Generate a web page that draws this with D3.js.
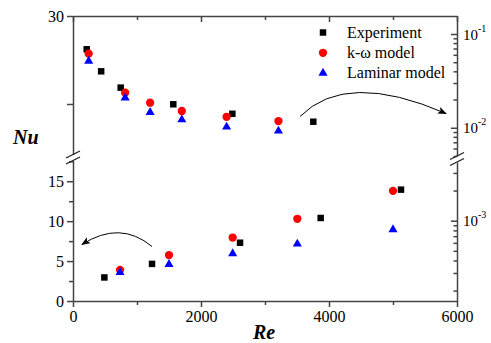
<!DOCTYPE html>
<html>
<head>
<meta charset="utf-8">
<script src="https://cdn.jsdelivr.net/npm/d3@7"></script>
<style>
  body { margin: 0; background: #fff; }
  svg { display: block; font-family: "Liberation Serif", "Times New Roman", serif; }
  .axis path, .axis line { stroke: #444; stroke-width: 1.5; }
  .axis text { font-size: 16px; fill: #000; font-family: "Liberation Serif", serif; }
</style>
</head>
<body>
<svg width="491" height="343"></svg>
<script>
// upper part: friction factor (right log axis)
var expReTop = [214, 440, 745, 1567, 2490, 3755];
var expFTop = [0.0687, 0.0400, 0.0268, 0.0178, 0.0141, 0.0116];
var modelReTop = [245, 815, 1205, 1700, 2400, 3210];
var kwFTop = [0.0617, 0.0237, 0.0185, 0.0151, 0.0131, 0.0118];
var lamFTop = [0.0515, 0.0209, 0.0146, 0.0122, 0.0102, 0.00924];

// lower part: Nusselt number (left linear axis)
var expReBot = [490, 1235, 2610, 3870, 5125];
var expNuBot = [2.95, 4.65, 7.3, 10.4, 13.95];
var modelReBot = [735, 1500, 2495, 3505, 5000];
var kwNuBot = [3.9, 5.75, 7.95, 10.3, 13.8];
var lamNuBot = [3.6, 4.6, 5.95, 7.15, 8.95];

var xTicks = [0, 1000, 2000, 3000, 4000, 5000, 6000];
var nuTicks = [0, 2.5, 5, 7.5, 10, 12.5, 15, 17.5];
var legendNames = ["Experiment", "k-\u03c9 model", "Laminar model"];

var svg = d3.select("svg");

var x = d3.scaleLinear().domain([0, 6000]).range([73, 457]);
var yNu = d3.scaleLinear().domain([0, 17.6]).range([301, 160.5]);
var yNuTop = d3.scaleLinear().domain([22.13, 30]).range([154.5, 16]);
var fTop = d3.scaleLog().domain([0.005, 0.1556]).range([156, 16]);
var fBot = d3.scaleLog().domain([1.574e-4, 3.86e-3]).range([301, 162]);

// arrow head
svg.append("defs").append("marker")
  .attr("id", "head")
  .attr("markerUnits", "userSpaceOnUse")
  .attr("markerWidth", 9).attr("markerHeight", 7)
  .attr("refX", 8).attr("refY", 3.5)
  .attr("orient", "auto")
  .append("path").attr("d", "M0,0 L9,3.5 L0,7 L2,3.5 z").attr("fill", "#000");

// bottom axis
var xAxis = svg.append("g").attr("class", "axis")
  .attr("transform", "translate(0,301)")
  .call(d3.axisBottom(x).tickValues(xTicks).tickSizeOuter(0)
    .tickFormat(function(d) { return d % 2000 == 0 ? d : ""; }));
xAxis.selectAll(".tick line").attr("y2", function(d) { return d % 2000 == 0 ? 6 : 4; });
xAxis.selectAll(".tick text").attr("y", 10);

// top axis, ticks inside
var xTop = svg.append("g").attr("class", "axis")
  .attr("transform", "translate(0,16)")
  .call(d3.axisTop(x).tickValues(xTicks).tickSizeOuter(0).tickFormat(""));
xTop.selectAll(".tick line").attr("y2", function(d) { return d % 2000 == 0 ? 6 : 4; });

// left axis, lower segment
var yLeft = svg.append("g").attr("class", "axis")
  .attr("transform", "translate(73,0)")
  .call(d3.axisLeft(yNu).tickValues(nuTicks).tickSizeOuter(0)
    .tickFormat(function(d) { return d % 5 == 0 ? d : ""; }));
yLeft.selectAll(".tick line").attr("x2", function(d) { return d % 5 == 0 ? -6 : -4; });
yLeft.selectAll(".tick text").attr("x", -9);

// left axis, upper segment
var yLeftTop = svg.append("g").attr("class", "axis")
  .attr("transform", "translate(73,0)")
  .call(d3.axisLeft(yNuTop).tickValues([25, 30]).tickSizeOuter(0)
    .tickFormat(function(d) { return d == 30 ? d : ""; }));
yLeftTop.selectAll(".tick line").attr("x2", -6);
yLeftTop.selectAll(".tick text").attr("x", -9);

// right log axes, ticks pointing inward
function logTicks(scale) {
  var lo = scale.domain()[0], hi = scale.domain()[1], out = [];
  for (var e = -5; e <= 0; e++) {
    for (var m = 1; m <= 9; m++) {
      var v = m * Math.pow(10, e);
      if (v >= lo * 0.999 && v <= hi) out.push(v);
    }
  }
  return out;
}
function isDecade(d) { return Math.abs(Math.log10(d) - Math.round(Math.log10(d))) < 1e-6; }

[fTop, fBot].forEach(function(scale) {
  var g = svg.append("g").attr("class", "axis")
    .attr("transform", "translate(457,0)")
    .call(d3.axisRight(scale).tickValues(logTicks(scale)).tickSizeOuter(0).tickFormat(""));
  g.selectAll(".tick line").attr("x2", function(d) { return isDecade(d) ? -6 : -3.5; });
  g.selectAll(".tick").filter(isDecade).each(function(d) {
    var t = d3.select(this).append("text")
      .attr("x", 6).attr("y", 5).attr("text-anchor", "start")
      .style("font-size", "15px");
    t.append("tspan").text("10");
    t.append("tspan").attr("dy", -8).style("font-size", "10px").text(Math.round(Math.log10(d)));
  });
});

// break marks
function breakMark(cx, cy) {
  svg.append("line")
    .attr("x1", cx - 7).attr("y1", cy + 3.5).attr("x2", cx + 7).attr("y2", cy - 3.5)
    .attr("stroke", "#222").attr("stroke-width", 1.3);
}
breakMark(73, 154.5); breakMark(73, 160.5);
breakMark(457, 156); breakMark(457, 162);

// curved arrows
var p1 = d3.path();
p1.moveTo(300, 116.5);
p1.quadraticCurveTo(346, 70, 446, 113.5);
svg.append("path").attr("d", p1.toString())
  .attr("fill", "none").attr("stroke", "#000").attr("stroke-width", 1)
  .attr("marker-end", "url(#head)");

var p2 = d3.path();
p2.moveTo(152, 246.5);
p2.quadraticCurveTo(120, 220, 82, 244.5);
svg.append("path").attr("d", p2.toString())
  .attr("fill", "none").attr("stroke", "#000").attr("stroke-width", 1)
  .attr("marker-end", "url(#head)");

// markers
var square = d3.symbol().type(d3.symbolSquare).size(42);
var circle = d3.symbol().type(d3.symbolCircle).size(54);
var triangle = d3.symbol().type(d3.symbolTriangle).size(36);

function drawPoints(xs, ys, yScale, sym, color) {
  svg.append("g").selectAll("path")
    .data(xs)
    .enter().append("path")
    .attr("d", sym)
    .attr("fill", color)
    .attr("transform", function(d, i) { return "translate(" + x(d) + "," + yScale(ys[i]) + ")"; });
}

drawPoints(expReTop, expFTop, fTop, square, "#000");
drawPoints(modelReTop, kwFTop, fTop, circle, "#ff0000");
drawPoints(modelReTop, lamFTop, fTop, triangle, "#0000ff");

drawPoints(expReBot, expNuBot, yNu, square, "#000");
drawPoints(modelReBot, kwNuBot, yNu, circle, "#ff0000");
drawPoints(modelReBot, lamNuBot, yNu, triangle, "#0000ff");

// legend
var legend = svg.append("g");
var legendSyms = [[square, "#000"], [circle, "#ff0000"], [triangle, "#0000ff"]];
legendNames.forEach(function(name, i) {
  legend.append("path")
    .attr("d", legendSyms[i][0])
    .attr("fill", legendSyms[i][1])
    .attr("transform", "translate(323," + (32.5 + i * 20.3) + ")");
  legend.append("text")
    .attr("x", 347).attr("y", 37.5 + i * 20.3)
    .style("font-size", "16px")
    .text(name);
});

// axis titles
svg.append("text")
  .attr("x", 13).attr("y", 143.5)
  .style("font-size", "20px").style("font-weight", "bold").style("font-style", "italic")
  .text("Nu");
svg.append("text")
  .attr("x", 253).attr("y", 338.5)
  .style("font-size", "20px").style("font-weight", "bold").style("font-style", "italic")
  .text("Re");
</script>
</body>
</html>
